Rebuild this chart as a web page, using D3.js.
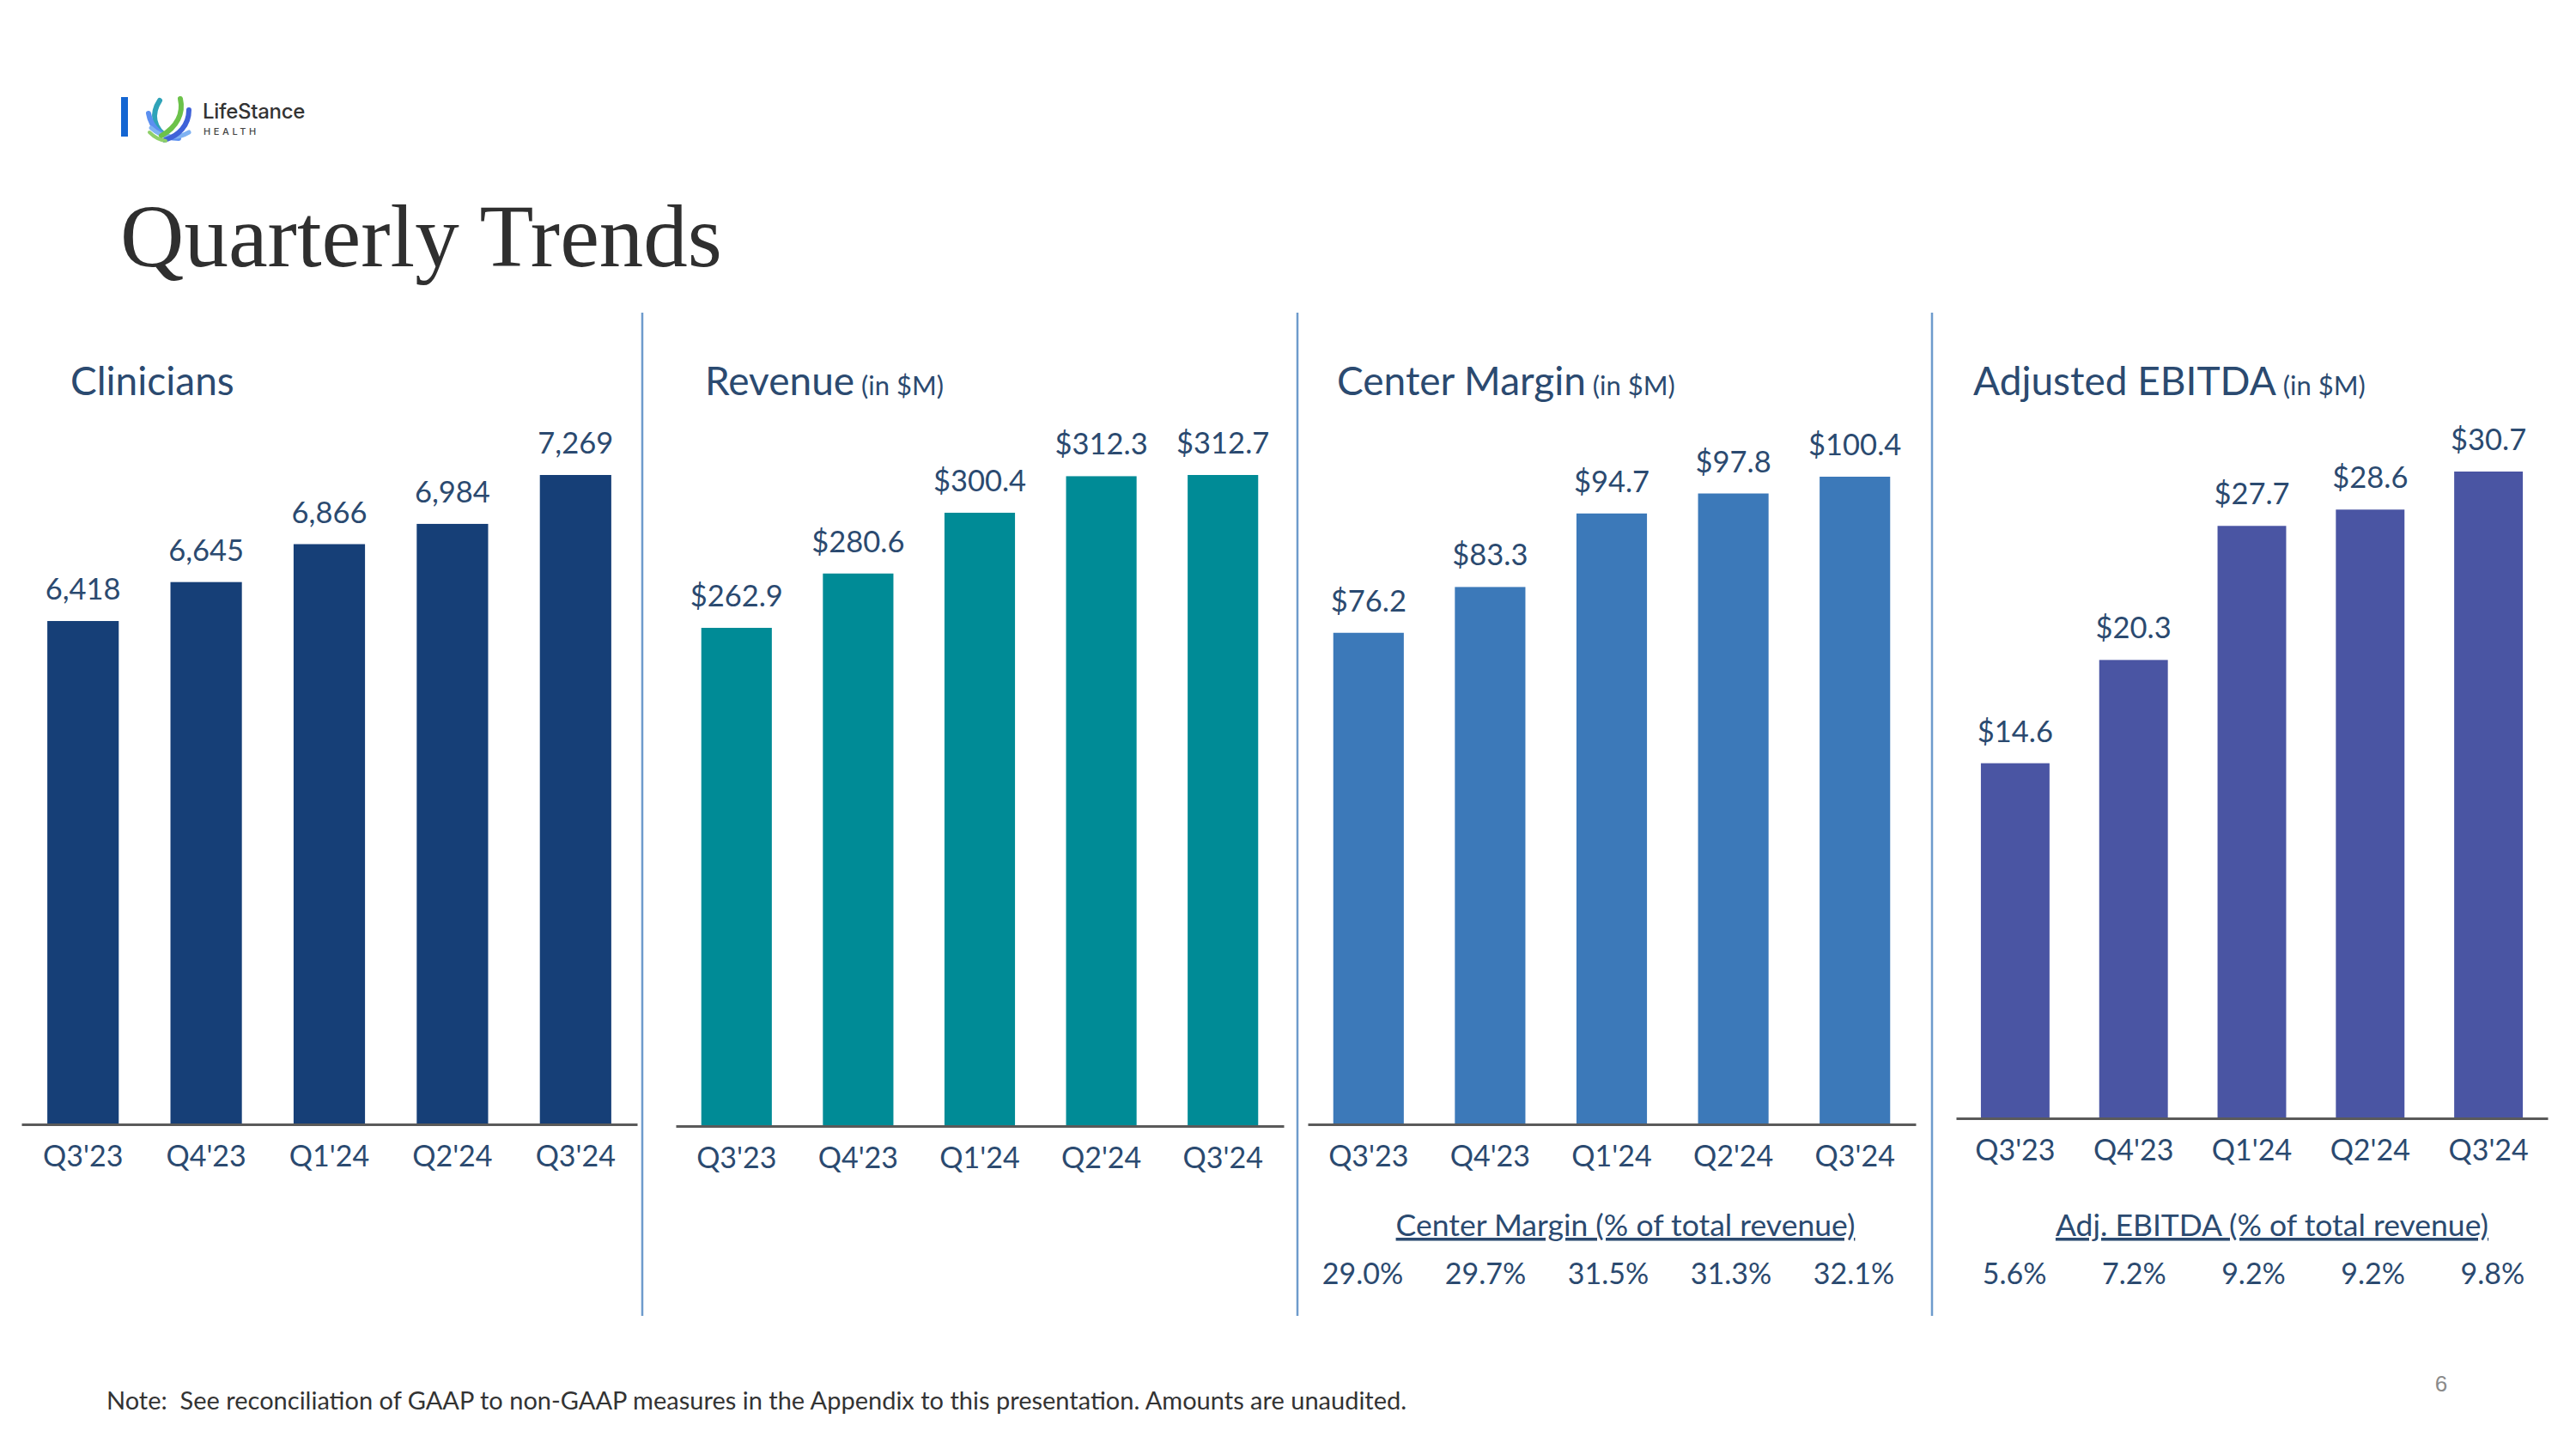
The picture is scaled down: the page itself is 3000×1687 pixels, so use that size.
<!DOCTYPE html>
<html>
<head>
<meta charset="utf-8">
<script src="https://cdn.jsdelivr.net/npm/d3@7"></script>
<style>
  html, body { margin: 0; padding: 0; background: #ffffff; }
  svg { display: block; }
</style>
</head>
<body>
<svg id="chart" width="3000" height="1687"></svg>
<script>
// ---------------- data ----------------
const quarters = ["Q3'23", "Q4'23", "Q1'24", "Q2'24", "Q3'24"];
const clinicians = [6418, 6645, 6866, 6984, 7269];
const revenue = [262.9, 280.6, 300.4, 312.3, 312.7];
const centerMargin = [76.2, 83.3, 94.7, 97.8, 100.4];
const adjEbitda = [14.6, 20.3, 27.7, 28.6, 30.7];
const centerMarginPct = [29.0, 29.7, 31.5, 31.3, 32.1];
const adjEbitdaPct = [5.6, 7.2, 9.2, 9.2, 9.8];

const panelTitles = ["Clinicians", "Revenue", "Center Margin", "Adjusted EBITDA"];
const panelUnits = ["", "(in $M)", "(in $M)", "(in $M)"];
const pctTitles = ["Center Margin (% of total revenue)", "Adj. EBITDA (% of total revenue)"];

// ---------------- layout ----------------
const FONT = "Lato, 'Open Sans', sans-serif";
const TEXT = "#2b4a70";
const svg = d3.select("#chart");

const panels = [
  { title: panelTitles[0], unit: panelUnits[0], values: clinicians, fmt: d3.format(","),
    color: "#163f77", x0: 25, x1: 742, base: 1309, top: 553, dmin: 3485, titleX: 82 },
  { title: panelTitles[1], unit: panelUnits[1], values: revenue, fmt: v => "$" + d3.format(".1f")(v),
    color: "#008b96", x0: 787, x1: 1495, base: 1311, top: 553, dmin: 100.6, titleX: 821 },
  { title: panelTitles[2], unit: panelUnits[2], values: centerMargin, fmt: v => "$" + d3.format(".1f")(v),
    color: "#3c79b9", x0: 1523, x1: 2231, base: 1309, top: 555, dmin: 0, titleX: 1557,
    pct: centerMarginPct, pctTitle: pctTitles[0], subX: 1893, pctShift: -4 },
  { title: panelTitles[3], unit: panelUnits[3], values: adjEbitda, fmt: v => "$" + d3.format(".1f")(v),
    color: "#4a55a3", x0: 2278, x1: 2967, base: 1302, top: 549, dmin: -5.0, titleX: 2298,
    pct: adjEbitdaPct, pctTitle: pctTitles[1], subX: 2646, pctShift: 2 }
];

// ---------------- header ----------------
const logo = svg.append("g");
logo.append("rect").attr("x", 141).attr("y", 113).attr("width", 8).attr("height", 46).attr("fill", "#1466d2");
const lg = logo.append("g").attr("fill", "none").attr("stroke-linecap", "round");
lg.append("path").attr("d", "M186,117 C176,132 178,150 196,160").attr("stroke", "#2fa3b8").attr("stroke-width", 6);
lg.append("path").attr("d", "M173,132 C176,150 190,161 208,161").attr("stroke", "#5b8ff0").attr("stroke-width", 6);
lg.append("path").attr("d", "M176,149 C188,160 205,163 220,154").attr("stroke", "#7fb2f2").attr("stroke-width", 5);
lg.append("path").attr("d", "M210,115 C214,132 206,148 188,158").attr("stroke", "#6cc24a").attr("stroke-width", 6);
lg.append("path").attr("d", "M220,128 C220,146 208,158 192,163").attr("stroke", "#3f62d8").attr("stroke-width", 6);
lg.append("path").attr("d", "M174,154 C180,160 186,163 193,164").attr("stroke", "#8fd06a").attr("stroke-width", 4);
logo.append("text").attr("x", 236).attr("y", 138).text("LifeStance")
  .attr("font-family", "Inter, 'Noto Sans', sans-serif").attr("font-size", 24).attr("font-weight", 500)
  .attr("fill", "#333333").attr("letter-spacing", -0.3);
logo.append("text").attr("x", 237).attr("y", 157).text("HEALTH")
  .attr("font-family", "Inter, 'Noto Sans', sans-serif").attr("font-size", 11).attr("font-weight", 500)
  .attr("fill", "#444444").attr("letter-spacing", 3.6);

svg.append("text").attr("x", 140).attr("y", 310).text("Quarterly Trends")
  .attr("font-family", "'Liberation Serif', 'DejaVu Serif', serif").attr("font-size", 103)
  .attr("fill", "#2f2f2f");

// dividers
[748, 1511, 2250].forEach(x => {
  svg.append("line").attr("x1", x).attr("x2", x).attr("y1", 364).attr("y2", 1532)
    .attr("stroke", "#6e9bcc").attr("stroke-width", 2.5);
});

// ---------------- panels ----------------
panels.forEach(p => {
  const g = svg.append("g");
  const x = d3.scaleBand().domain(quarters).range([p.x0, p.x1]).paddingInner(0.42).paddingOuter(0.21);
  const maxV = d3.max(p.values);
  const y = d3.scaleLinear().domain([p.dmin, maxV]).range([p.base, p.top]);

  // title
  const t = g.append("text").attr("x", p.titleX).attr("y", 460)
    .attr("font-family", FONT).attr("fill", TEXT);
  t.append("tspan").text(p.title).attr("font-size", 46);
  if (p.unit) t.append("tspan").text(" " + p.unit).attr("font-size", 31);

  // bars
  g.selectAll("rect.bar").data(p.values).join("rect")
    .attr("class", "bar")
    .attr("x", (d, i) => x(quarters[i]))
    .attr("width", x.bandwidth())
    .attr("y", d => y(d))
    .attr("height", d => p.base - y(d))
    .attr("fill", p.color);

  // value labels
  g.selectAll("text.val").data(p.values).join("text")
    .attr("class", "val")
    .attr("x", (d, i) => x(quarters[i]) + x.bandwidth() / 2)
    .attr("y", d => y(d) - 25)
    .attr("text-anchor", "middle")
    .attr("font-family", FONT).attr("font-size", 34.5).attr("fill", TEXT)
    .text(d => p.fmt(d));

  // axis
  const axis = d3.axisBottom(x).tickSize(0).tickSizeOuter(0).tickPadding(0);
  const ag = g.append("g").attr("transform", `translate(0,${p.base})`).call(axis);
  ag.select(".domain").attr("stroke", "#5a5a5a").attr("stroke-width", 3);
  ag.selectAll(".tick text")
    .attr("dy", null).attr("y", 49)
    .attr("font-family", FONT).attr("font-size", 34).attr("fill", TEXT);

  // percentage row
  if (p.pct) {
    g.append("text").attr("x", p.subX).attr("y", 1439)
      .attr("text-anchor", "middle").attr("font-family", FONT).attr("font-size", 35.5)
      .attr("fill", TEXT).attr("text-decoration", "underline").text(p.pctTitle);
    const step = x.step() * 1.01;
    const mid = x(quarters[2]) + x.bandwidth() / 2 + p.pctShift;
    g.selectAll("text.pct").data(p.pct).join("text")
      .attr("class", "pct")
      .attr("x", (d, i) => mid + (i - 2) * step)
      .attr("y", 1495)
      .attr("text-anchor", "middle")
      .attr("font-family", FONT).attr("font-size", 34).attr("fill", TEXT)
      .text(d => d3.format(".1f")(d) + "%");
  }
});

// ---------------- footer ----------------
svg.append("text").attr("x", 124).attr("y", 1641)
  .attr("font-family", FONT).attr("font-size", 29).attr("fill", "#333333")
  .attr("xml:space", "preserve")
  .text("Note:  See reconciliation of GAAP to non-GAAP measures in the Appendix to this presentation. Amounts are unaudited.");
svg.append("text").attr("x", 2843).attr("y", 1620).attr("text-anchor", "middle")
  .attr("font-family", "'Liberation Sans', Arial, sans-serif").attr("font-size", 26).attr("fill", "#8a8a8a")
  .text("6");
</script>
</body>
</html>
